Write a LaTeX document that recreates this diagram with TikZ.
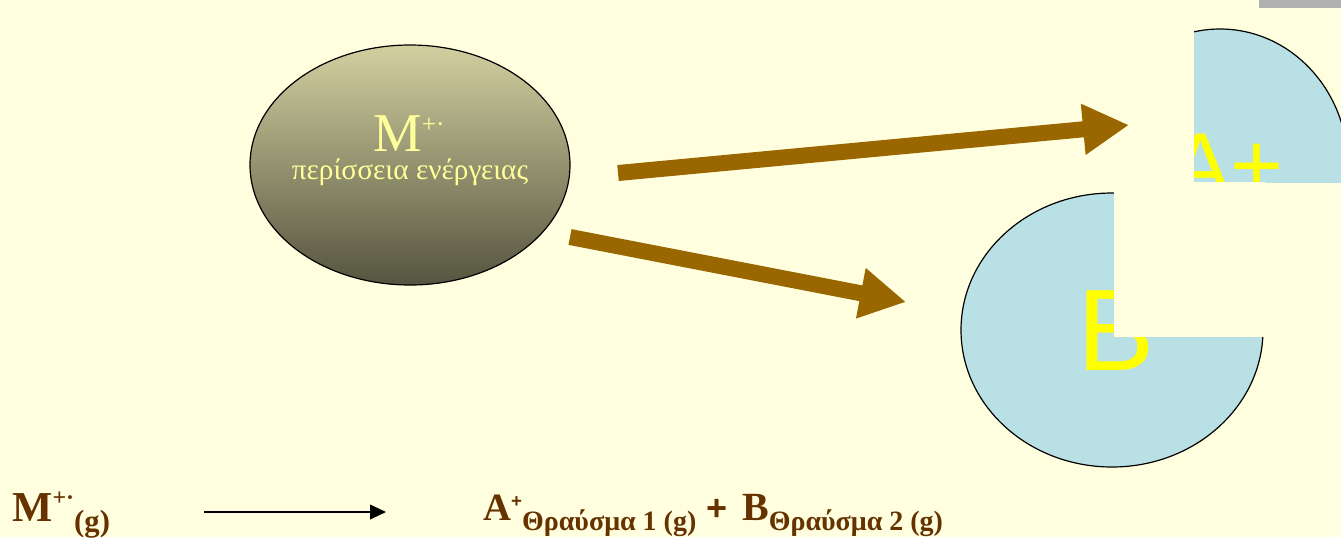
\documentclass[tikz,border=0pt]{standalone}
\usepackage{fontspec}
\setmainfont{Liberation Serif}
\newfontfamily\sansfont{Liberation Sans}
\usetikzlibrary{shapes.geometric, arrows.meta, positioning}
\definecolor{slidebg}{HTML}{FFFFE0}
\definecolor{splitbrown}{HTML}{996600}
\definecolor{fragblue}{HTML}{B9E0E4}
\definecolor{fragyellow}{HTML}{FFFF00}
\definecolor{eqbrown}{HTML}{663300}
\definecolor{ionlight}{HTML}{FFFF99}
\definecolor{ionkhaki}{HTML}{D2D0A0}
\definecolor{iondark}{HTML}{55543F}
\definecolor{bargray}{HTML}{B0B0B0}

\begin{document}
\begin{tikzpicture}[x=0.75pt, y=-0.75pt,
        ion/.style={ellipse, draw=black, line width=0.9pt, top color=ionkhaki, bottom color=iondark,
          minimum width=240pt, minimum height=180pt, inner sep=0pt},
        frag/.style={ellipse, draw=black, line width=0.9pt, fill=fragblue,
          minimum height=205.5pt, inner sep=0pt},
        fragtext/.style={text=fragyellow, inner sep=0pt},
        iontext/.style={text=ionlight, inner sep=0pt, anchor=base},
        eqn/.style={text=eqbrown, inner sep=0pt, anchor=base west},
        split/.style={-{Triangle[length=34.5pt, width=36pt]}, draw=splitbrown, line width=12pt},
        rxn/.style={-{Triangle[length=12pt, width=11pt]}, draw=black, line width=1.5pt}]
        \path[use as bounding box, fill=slidebg] (0,0) rectangle (1341,537);
        \fill[bargray] (1259,0) rectangle (1341,8);
        % parent ion
        \node[ion] (M) at (410,165) {};
        \node[iontext, font=\fontsize{41}{41}\selectfont] (Mlab) at (409,151)
          {M\raisebox{14pt}{\fontsize{19}{19}\selectfont +·}};
        \node[iontext, font=\fontsize{22}{22}\selectfont] (Mexc) at (410,179) {περίσσεια ενέργειας};
        % fragments
        \node[frag, minimum width=226.5pt] (B) at (1112,330) {};
        \node[fragtext, font=\sansfont\fontsize{87}{87}\selectfont] (Blab) at (1116,331) {B};
        \begin{scope}
          \clip (1194,0) rectangle (1341,182);
          \node[frag, minimum width=192pt] (A) at (1220,166) {};
          \node[fragtext, anchor=base, font=\sansfont\fontsize{68}{68}\selectfont] (Alab) at (1227,196) {A+};
        \end{scope}
        \fill[slidebg] (1114,182) rectangle (1264.5,337);
        % splitting arrows
        \coordinate (s1) at (618,173);
        \coordinate (e1) at (1129,125);
        \coordinate (s2) at (570,237);
        \coordinate (e2) at (906,302);
        \draw[split] (s1) -- (e1);
        \draw[split] (s2) -- (e2);
        % equation
        \node[eqn, font=\bfseries\fontsize{32}{32}\selectfont] (lhs) at (12,521)
          {M\raisebox{12pt}{\fontsize{18}{18}\selectfont +·}\raisebox{-7.5pt}{\fontsize{23}{23}\selectfont (g)}};
        \coordinate (r0) at (204,512);
        \coordinate (r1) at (386,512);
        \draw[rxn] (r0) -- (r1);
        \node[eqn, font=\bfseries\fontsize{29}{29}\selectfont] (rhs) at (483,520)
          {A\raisebox{9.5pt}{\sansfont\fontsize{14}{14}\selectfont +}\raisebox{-8pt}{\fontsize{21}{21}\selectfont Θραύσμα 1 (g)}
           {\sansfont\fontsize{27}{27}\selectfont +}\hspace{4pt} {\fontsize{30}{30}\selectfont B}\raisebox{-8pt}{\fontsize{21}{21}\selectfont Θραύσμα 2 (g)}};
      \end{tikzpicture}
\end{document}
